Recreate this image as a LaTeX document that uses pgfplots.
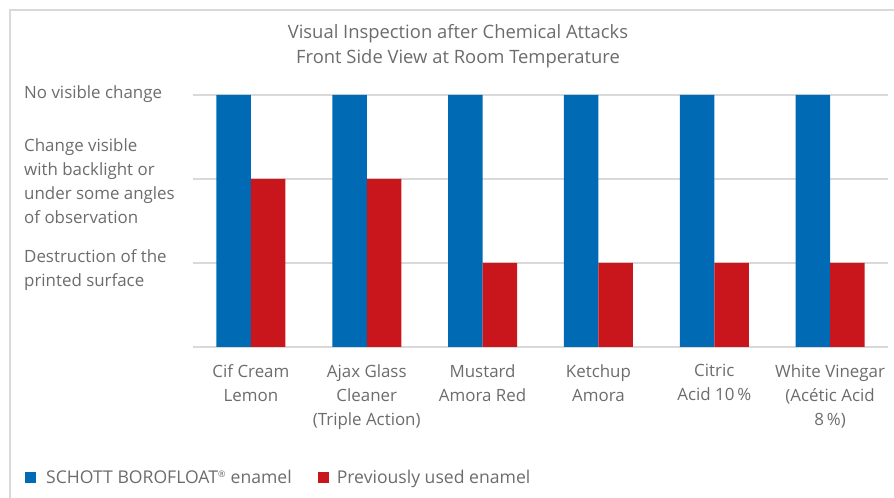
\documentclass[border=0pt]{standalone}
\usepackage{pgfplots}
\pgfplotsset{compat=1.18}
\usepackage{fontspec}
\setmainfont{Open Sans}
\definecolor{txt}{RGB}{108,108,108}
\definecolor{gridc}{RGB}{217,217,217}
\definecolor{cblue}{RGB}{0,106,180}
\definecolor{cred}{RGB}{200,22,28}
\newcommand\f{\fontsize{16.9bp}{24bp}\selectfont}
\newcommand\fl{\fontsize{17.6bp}{24bp}\selectfont}
\newcommand\ft{\fontsize{18.4bp}{25bp}\selectfont}
\newcommand\lines[1]{\begin{tabular}{@{}l@{}}#1\end{tabular}}
\begin{document}
\begin{tikzpicture}[x=1bp,y=1bp]
\useasboundingbox (0,0) rectangle (894,498);
\clip (0,0) rectangle (894,498);
\draw[gridc, line width=1.5bp] (10,-10) rectangle (910,488);
\begin{axis}[
 at={(193bp,151bp)}, anchor=south west,
 scale only axis, width=695bp, height=252bp,
 ybar=0pt, bar width=34.5bp,
 xmin=-0.5, xmax=5.5, ymin=0, ymax=3,
 axis line style={draw=none},
 ytick={0,1,2,3},
 yticklabel={\ifcase\ticknum\or
   \raisebox{-11.5bp}{\lines{Destruction of the\\printed surface}}\or
   \raisebox{-8.2bp}{\lines{Change visible\\with backlight or\\under some angles\\of observation}}\or
   \raisebox{-3.2bp}{\lines{No visible change}}\fi},
 ymajorgrids, grid style={gridc, line width=1.2bp},
 major tick length=0pt,
 yticklabel style={anchor=base west, inner sep=0pt, xshift=-169bp, font=\f, text=txt},
 xtick=data,
 xticklabels={{Cif Cream\\Lemon},{Ajax Glass\\Cleaner\\(Triple Action)},{Mustard\\Amora Red},{Ketchup\\Amora},{Citric\\Acid 10\,\%},{White Vinegar\\(Acétic Acid\\8\,\%)}},
 xticklabel style={align=center, anchor=north, font=\f, text=txt, yshift=-14bp},
 legend columns=2,
 legend style={draw=none, fill=none, inner sep=0pt, at={(axis description cs:-0.2417,-0.518)}, anchor=west, font=\fl, text=txt, /tikz/every even column/.append style={column sep=24bp}},
 legend image code/.code={\fill[#1] (0bp,-5.5bp) rectangle (11bp,5.5bp);},
]
\addplot[fill=cblue, draw=none] coordinates {(0,3) (1,3) (2,3) (3,3) (4,3) (5,3)};
\addplot[fill=cred, draw=none] coordinates {(0,2) (1,2) (2,1) (3,1) (4,1) (5,1)};
\legend{\hspace{8bp}SCHOTT BOROFLOAT\textsuperscript{\fontsize{9bp}{9bp}\selectfont ®} enamel, \hspace{6bp}Previously used enamel}
\end{axis}
\node[align=center, font=\ft, text=txt] at (458,451.5) {Visual Inspection after Chemical Attacks\\Front Side View at Room Temperature};
\end{tikzpicture}
\end{document}
